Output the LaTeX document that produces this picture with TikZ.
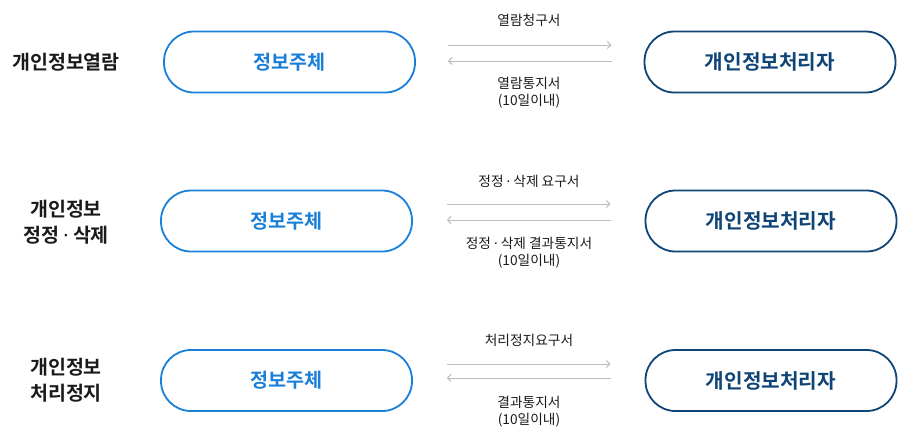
\documentclass[tikz,border=0pt]{standalone}
\usepackage{fontspec}
\setmainfont{Noto Sans CJK KR}[BoldFont=* Bold]
\newfontfamily\dotfont{Noto Sans}
\newcommand{\mdot}{{\dotfont ·}}
\usetikzlibrary{arrows.meta}
\definecolor{subjblue}{HTML}{1A7FD8}
\definecolor{procnavy}{HTML}{0F4477}
\definecolor{arrgray}{HTML}{BDBDBD}
\definecolor{txtdark}{HTML}{1A1A1A}
\begin{document}
\begin{tikzpicture}[x=1pt,y=-1pt,
  subjbox/.style={draw=subjblue, line width=1.8pt, rounded corners=30pt, minimum width=251pt, minimum height=61pt, inner sep=0pt, text=subjblue, font=\fontsize{19.6}{22}\selectfont\bfseries},
  procbox/.style={draw=procnavy, line width=1.8pt, rounded corners=30pt, minimum width=251pt, minimum height=61pt, inner sep=0pt, text=procnavy, font=\fontsize{20.2}{22}\selectfont\bfseries},
  rowlabel/.style={align=center, text=txtdark, font=\fontsize{19.5}{26}\selectfont\bfseries, inner sep=0pt},
  msglabel/.style={align=center, text=txtdark, font=\fontsize{13.7}{17}\selectfont, inner sep=0pt},
  arr/.style={draw=arrgray, line width=1pt, -{Straight Barb[length=3.5pt,width=7pt]}}
]
\useasboundingbox (0,0) rectangle (900,445);

% row 1
\node[rowlabel] (r1) at (66,62) {개인정보열람};
\node[subjbox] (s1) at (289.5,62) {정보주체};
\node[procbox] (p1) at (770,62) {개인정보처리자};
\draw[arr, shorten <=32pt, shorten >=32pt] ([yshift=17pt]s1.east) -- ([yshift=17pt]p1.west);
\draw[arr, shorten <=32pt, shorten >=32pt] ([yshift=1pt]p1.west) -- ([yshift=1pt]s1.east);
\node[msglabel] (m1a) at (529,20) {열람청구서};
\node[msglabel] (m1b) at (529,93) {열람통지서\\(10일이내)};

% row 2
\node[rowlabel] (r2) at (66,222) {개인정보\\정정 \mdot{} 삭제};
\node[subjbox] (s2) at (286.5,221) {정보주체};
\node[procbox] (p2) at (771,221) {개인정보처리자};
\draw[arr, shorten <=34pt, shorten >=34pt] ([yshift=17pt]s2.east) -- ([yshift=17pt]p2.west);
\draw[arr, shorten <=34pt, shorten >=34pt] ([yshift=1pt]p2.west) -- ([yshift=1pt]s2.east);
\node[msglabel] (m2a) at (529,181) {정정 \mdot{} 삭제 요구서};
\node[msglabel] (m2b) at (529,253) {정정 \mdot{} 삭제 결과통지서\\(10일이내)};

% row 3
\node[rowlabel] (r3) at (66,380) {개인정보\\처리정지};
\node[subjbox] (s3) at (286.5,380.5) {정보주체};
\node[procbox] (p3) at (771,380.5) {개인정보처리자};
\draw[arr, shorten <=34pt, shorten >=34pt] ([yshift=16.5pt]s3.east) -- ([yshift=16.5pt]p3.west);
\draw[arr, shorten <=34pt, shorten >=34pt] ([yshift=2.5pt]p3.west) -- ([yshift=2.5pt]s3.east);
\node[msglabel] (m3a) at (529,340) {처리정지요구서};
\node[msglabel] (m3b) at (529,412) {결과통지서\\(10일이내)};
\end{tikzpicture}
\end{document}
